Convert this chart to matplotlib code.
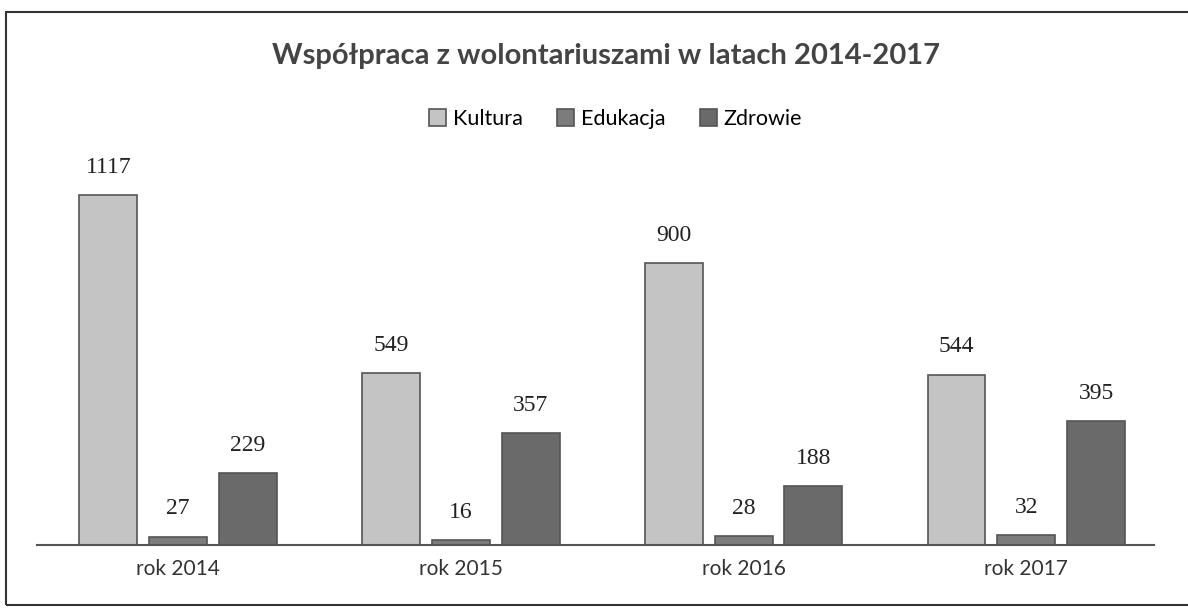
import matplotlib.pyplot as plt
import numpy as np
from matplotlib.patches import Rectangle

lata = ['rok 2014', 'rok 2015', 'rok 2016', 'rok 2017']
kultura = [1117, 549, 900, 544]
edukacja = [27, 16, 28, 32]
zdrowie = [229, 357, 188, 395]

serie = ['Kultura', 'Edukacja', 'Zdrowie']
kolory = ['#c4c4c4', '#7c7c7c', '#6a6a6a']

plt.rcParams['font.family'] = ['Lato', 'DejaVu Sans']

fig = plt.figure(figsize=(11.88, 6.10), dpi=100)
fig.patches.append(Rectangle((0.005, 0.008), 1.2, 0.972, transform=fig.transFigure,
                             fill=False, edgecolor='#333333', linewidth=1.5))

ax = fig.add_axes([0.031, 0.1066, 0.94, 0.598])
x = np.arange(len(lata))
szer = 0.205
krok = 0.247
for i, (dane, nazwa, kol) in enumerate(zip([kultura, edukacja, zdrowie], serie, kolory)):
    pos = x + (i - 1) * krok
    bars = ax.bar(pos, dane, width=szer, color=kol, edgecolor='#555555', linewidth=1.2, label=nazwa)
    for b, v in zip(bars, dane):
        ax.text(b.get_x() + b.get_width() / 2, v + 55, str(v), ha='center', va='bottom',
                fontsize=17, color='#222222', family='Liberation Serif')

ax.set_xlim(-0.5, 3.45)
ax.set_ylim(0, 1165)
ax.set_xticks(x)
ax.set_xticklabels(lata, fontsize=15, color='#333333')
ax.tick_params(axis='x', length=0, pad=10)
ax.set_yticks([])
for s in ['top', 'right', 'left']:
    ax.spines[s].set_visible(False)
ax.spines['bottom'].set_color('#555555')
ax.spines['bottom'].set_linewidth(1.5)

fig.text(0.51, 0.908, 'Współpraca z wolontariuszami w latach 2014-2017', ha='center', va='center',
         fontsize=21, fontweight='bold', color='#444444')
fig.legend(loc='center', bbox_to_anchor=(0.518, 0.805), ncol=3, frameon=False, fontsize=15.5,
           handlelength=0.8, handleheight=0.8, handletextpad=0.3, columnspacing=1.6)

fig.savefig('out.png', dpi=100)
